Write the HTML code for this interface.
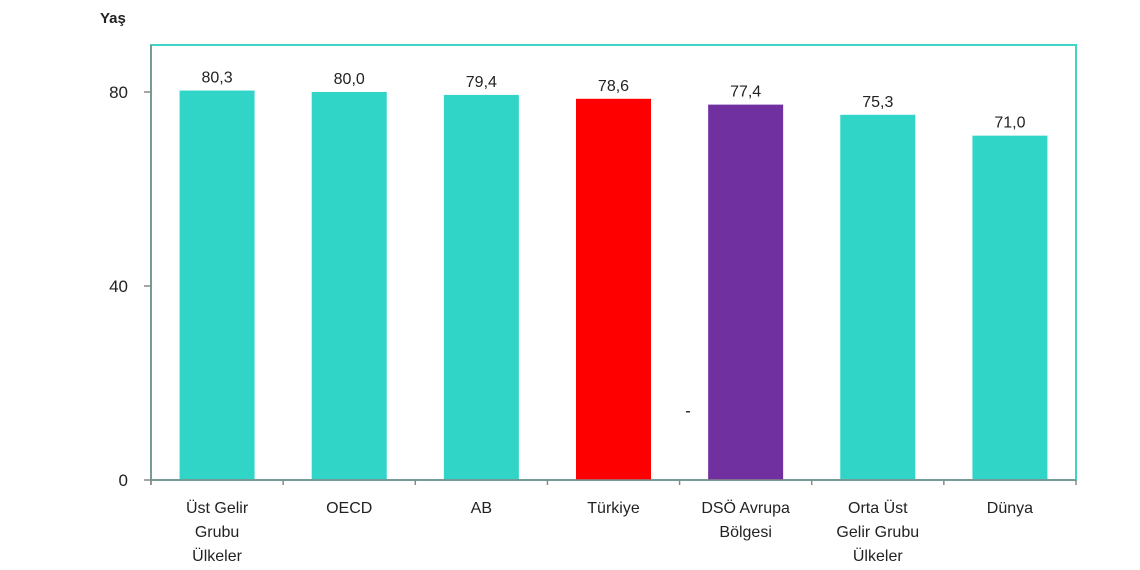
<!DOCTYPE html>
<html><head><meta charset="utf-8"><style>
body{margin:0;background:#fff;}
svg{display:block;font-family:"Liberation Sans",sans-serif;}
</style></head><body>
<svg id="c" width="1140" height="570">
<text x="100" y="23" font-size="15" font-weight="bold" fill="#222">Yaş</text>
<rect x="151" y="45" width="925" height="435" fill="none" stroke="#3fd6c6" stroke-width="2"/>
<g id="bars"></g>
<g id="axes"></g>
<rect x="686" y="411" width="4" height="1.5" fill="#333"/>
</svg>
<script>
const categories=[["Üst Gelir","Grubu","Ülkeler"],["OECD"],["AB"],["Türkiye"],["DSÖ Avrupa","Bölgesi"],["Orta Üst","Gelir Grubu","Ülkeler"],["Dünya"]];
const values=[80.3,80.0,79.4,78.6,77.4,75.3,71.0];
const labels=["80,3","80,0","79,4","78,6","77,4","75,3","71,0"];
const colors=["#30d5c8","#30d5c8","#30d5c8","#ff0000","#7030a0","#30d5c8","#30d5c8"];
const yTicks=[0,40,80];
const NS="http://www.w3.org/2000/svg";
const x0=151,plotW=925,y0=480,ppu=388/80,barW=75;
const band=plotW/categories.length;
const y=v=>y0-v*ppu;
const xc=i=>x0+band*(i+0.5);
const bars=document.getElementById('bars'),axes=document.getElementById('axes');
function mk(tag,attrs,parent,txt){const e=document.createElementNS(NS,tag);for(const k in attrs)e.setAttribute(k,attrs[k]);if(txt!==undefined)e.textContent=txt;parent.appendChild(e);return e;}
values.forEach((v,i)=>{
 const r=mk('rect',{x:xc(i)-barW/2,y:y(v),width:barW,height:y0-y(v),fill:colors[i]},bars);
 
 
 const t=mk('text',{x:xc(i),y:y(v)-8,'text-anchor':'middle','font-size':'16',fill:'#222'},bars,labels[i]);
 
 
 const g=mk('text',{x:xc(i),y:513,'text-anchor':'middle','font-size':'16',fill:'#222'},axes);
 
 
 categories[i].forEach((l,j)=>mk('tspan',{x:xc(i),dy:j?24:0},g,l));
});
const xl=mk('line',{x1:x0,x2:x0+plotW,y1:y0,y2:y0,stroke:'#888','stroke-width':1.5},axes);


const yl=mk('line',{x1:x0,x2:x0,y1:45,y2:y0+5,stroke:'#888','stroke-width':1.5},axes);


for(let i=0;i<=categories.length;i++){mk('line',{x1:x0+band*i,x2:x0+band*i,y1:y0,y2:y0+5,stroke:'#888','stroke-width':1.5},axes);}
yTicks.forEach(v=>{
 mk('line',{x1:x0-7,x2:x0,y1:y(v),y2:y(v),stroke:'#888','stroke-width':1.5},axes);
 const t=mk('text',{x:x0-23,y:y(v)+6,'text-anchor':'end','font-size':'17',fill:'#222'},axes,String(v));
 
 
});
</script>
</body></html>
